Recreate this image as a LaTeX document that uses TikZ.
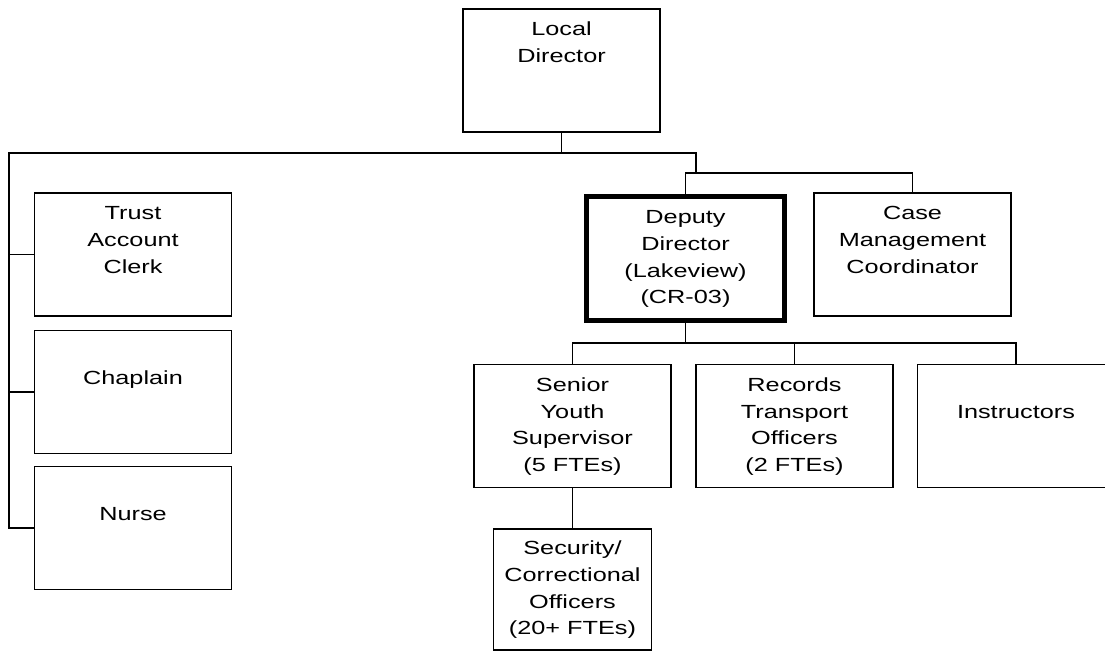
\documentclass[tikz,border=0pt]{standalone}
\usepackage{fontspec}
\setmainfont{Liberation Sans}
\usepackage{graphicx}
\usetikzlibrary{positioning}
\tikzstyle{post}=[draw,line width=1.4pt,inner sep=0pt,minimum width=197pt,minimum height=123pt,font=\fontsize{19}{26.6}\selectfont]
\tikzstyle{head}=[post,line width=4.8pt,minimum width=198pt,minimum height=124pt]
\tikzstyle{link}=[draw,line width=1.4pt]
\newcommand{\lbl}[1]{\scalebox{1.33}[1]{\begin{tabular}{@{}c@{}}#1\end{tabular}}}

\begin{document}
\begin{tikzpicture}[x=1pt,y=-1pt]
				\useasboundingbox (0,0) rectangle (1105,652);

				% Draw the posts
				\node[post] (local) at (561.5,70.5) {\lbl{Local\\Director\\~\\~}};
				\foreach \pos/\name/\txt in {{(133,254.5)/trust/{Trust\\Account\\Clerk\\~}},
										{(133,392)/chap/{Chaplain\\~}}, {(133,528)/nurse/{Nurse\\~}},
										{(912.5,254.5)/case/{Case\\Management\\Coordinator\\~}},
										{(572.5,426)/senior/{Senior\\Youth\\Supervisor\\(5 FTEs)}},
										{(794.5,426)/records/{Records\\Transport\\Officers\\(2 FTEs)}},
										{(1016,426)/instr/{Instructors\\~}}}
				\node[post] (\name) at \pos {\lbl{\txt}};
				\node[head] (dep) at (685.5,258.5) {\lbl{Deputy\\Director\\(Lakeview)\\(CR-03)}};
				\node[post,minimum width=158pt,minimum height=121pt] (secur) at (572.5,589.5) {\lbl{Security/\\Correctional\\Officers\\(20+ FTEs)}};

				% Connect the posts
				\coordinate (top) at (local.south |- 0,153);
				\coordinate (lft) at ([xshift=-25pt]trust.west |- top);
				\coordinate (mid) at (696,173);
				\path[link] (local.south) -- (top) -- (lft) |- (nurse.west);
				\foreach \name in {trust,chap}
				\path[link] (lft |- \name.west) -- (\name.west);
				\path[link] (top) -| (mid);
				\path[link] (dep.north) |- (mid) -| (case.north);

				\coordinate (dbus) at (dep.south |- 0,343);
				\path[link] (dep.south) -- (dbus);
				\path[link] (senior.north) |- (dbus) -| (instr.north);
				\path[link] (dbus) -| (records.north);
				\path[link] (senior.south) -- (secur.north);
			\end{tikzpicture}
\end{document}
